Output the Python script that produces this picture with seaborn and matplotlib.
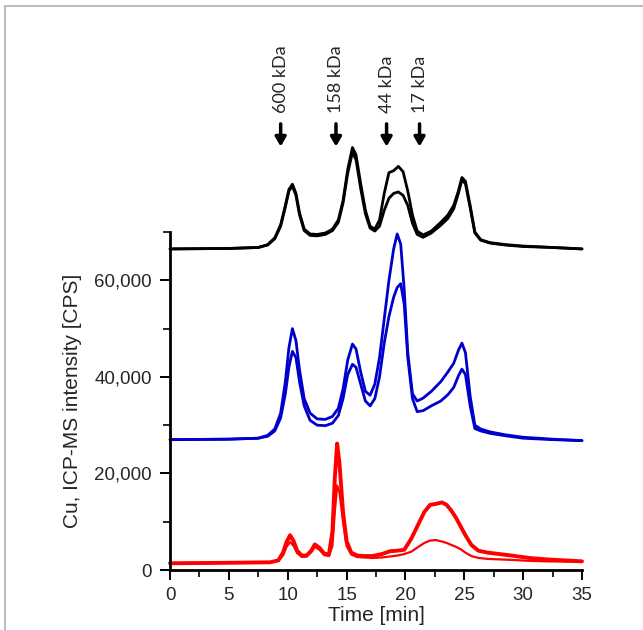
import matplotlib
matplotlib.use("Agg")
import matplotlib.pyplot as plt
from matplotlib.lines import Line2D
from matplotlib.ticker import FuncFormatter, MultipleLocator
import pandas as pd
import seaborn as sns

# values, intensity in CPS / 1000
black_t = [0, 5, 7.5, 8.3, 8.9, 9.4, 9.8, 10.1, 10.4, 10.7, 11.0, 11.4, 11.9, 12.5,
           13.2, 13.8, 14.3, 14.7, 15.1, 15.5, 15.8, 16.2, 16.6, 17.0, 17.4, 17.8,
           18.2, 18.6, 19.0, 19.4, 19.8, 20.2, 20.6, 21.0, 21.5, 22.2, 23.0, 23.6,
           24.1, 24.5, 24.8, 25.1, 25.5, 25.9, 26.4, 27.2, 28.5, 30, 32.5, 35]
black_a = [66.5, 66.6, 66.8, 67.4, 68.8, 71.5, 75.5, 78.8, 79.9, 78, 74, 70.6, 69.6, 69.5,
           69.8, 70.6, 72.5, 76.5, 83, 87.5, 86, 80, 74.5, 71.2, 70.6, 72.5,
           78, 82.3, 82.7, 83.6, 82.5, 78.5, 73.5, 70.2, 69.4, 70.2, 72.0, 73.5,
           75.5, 78.5, 81.3, 80.5, 75.5, 70.0, 68.4, 67.8, 67.4, 67.1, 66.8, 66.5]
black_b = [66.5, 66.6, 66.8, 67.3, 68.6, 71.2, 75.2, 78.5, 79.5, 77.6, 73.6, 70.3, 69.3, 69.2,
           69.5, 70.3, 72.0, 76, 82.2, 86.5, 85, 79, 73.8, 70.8, 70.2, 71.2,
           74.5, 77.0, 78.0, 78.3, 77.6, 75.5, 71.8, 69.5, 68.9, 69.8, 71.4, 72.8,
           74.8, 78.0, 80.8, 80.0, 75.0, 69.8, 68.3, 67.7, 67.3, 67.0, 66.8, 66.5]

blue_t = [0, 5, 7.5, 8.3, 8.9, 9.4, 9.8, 10.1, 10.4, 10.7, 11.0, 11.4, 11.9, 12.5,
          13.2, 13.8, 14.3, 14.7, 15.1, 15.5, 15.8, 16.2, 16.6, 17.0, 17.4, 17.8,
          18.2, 18.6, 19.0, 19.3, 19.6, 19.9, 20.2, 20.6, 21.0, 21.5, 22.2, 23.0,
          23.6, 24.1, 24.5, 24.8, 25.1, 25.5, 25.9, 26.4, 27.2, 28.5, 30, 32.5, 35]
blue_a = [27.0, 27.1, 27.3, 27.9, 29.2, 32.5, 39, 46, 50, 47.5, 41.5, 35.5, 32.5, 31.3,
          31.2, 31.8, 33.5, 37.5, 43.5, 46.8, 45.8, 41, 37, 36.2, 38.5, 44,
          52, 60, 66.5, 69.6, 67.5, 58, 45, 36.5, 35.0, 35.6, 37.0, 39.0,
          41.0, 42.8, 45.5, 47.0, 45.0, 36.0, 30.0, 29.2, 28.6, 28.0, 27.5, 27.1, 26.8]
blue_b = [27.0, 27.1, 27.3, 27.7, 28.8, 31.5, 36.5, 42, 45.3, 44, 39, 34, 31, 30.0,
          29.9, 30.4, 32, 35.5, 40.5, 42.6, 42.0, 38.5, 35, 34.0, 35.5, 40,
          47, 52.5, 56.5, 58.5, 59.3, 55, 44, 35.5, 32.8, 33.0, 34.0, 35.0,
          36.3, 37.8, 40.2, 41.6, 40.5, 34.0, 29.3, 28.8, 28.3, 27.8, 27.3, 27.0, 26.8]

red_t = [0, 5, 8.5, 9.2, 9.6, 9.9, 10.2, 10.5, 10.8, 11.2, 11.6, 12.0, 12.3, 12.7,
         13.1, 13.5, 13.8, 14.0, 14.2, 14.4, 14.7, 15.0, 15.4, 15.9, 16.5, 17.2,
         18.0, 18.7, 19.3, 19.9, 20.5, 21.1, 21.6, 22.1, 22.6, 23.1, 23.5, 23.9,
         24.3, 24.7, 25.1, 25.6, 26.2, 27.0, 28.0, 29.0, 30.5, 32, 35]
red_a = [1.4, 1.5, 1.6, 2.0, 3.6, 5.8, 7.2, 6.0, 4.0, 3.0, 3.0, 4.0, 5.3, 4.6,
         3.4, 3.2, 8, 19, 26.2, 22, 12, 6, 3.6, 3.0, 2.9, 2.9,
         3.3, 3.9, 4.0, 4.2, 6.5, 9.5, 12.0, 13.5, 13.7, 14.0, 13.5, 12.3,
         10.8, 9.0, 7.2, 5.2, 4.0, 3.6, 3.3, 3.0, 2.5, 2.2, 1.8]
red_b = [1.4, 1.5, 1.6, 1.9, 3.0, 4.8, 5.8, 5.0, 3.5, 2.7, 2.8, 3.7, 4.8, 4.2,
         3.1, 2.9, 5, 12, 17.5, 16, 10, 5, 3.2, 2.7, 2.6, 2.5,
         2.6, 2.8, 3.0, 3.3, 3.8, 4.8, 5.6, 6.1, 6.2, 5.9, 5.6, 5.2,
         4.8, 4.3, 3.6, 2.9, 2.5, 2.3, 2.2, 2.1, 1.9, 1.8, 1.7]

marker_t = [9.4, 14.1, 18.4, 21.2]
marker_labels = ["600 kDa", "158 kDa", "44 kDa", "17 kDa"]

sns.set_style("ticks")
plt.rcParams["font.family"] = ["Liberation Sans", "DejaVu Sans"]

fig = plt.figure(figsize=(6.43, 6.30), dpi=100)
ax = fig.add_axes([0.2644, 0.0952, 0.6407, 0.5365])

traces = [
    (black_t, black_a, "#000000", 2.0),
    (black_t, black_b, "#000000", 2.0),
    (blue_t, blue_a, "#0000cd", 2.0),
    (blue_t, blue_b, "#0000cd", 2.0),
    (red_t, red_a, "#ff0000", 2.8),
    (red_t, red_b, "#ff0000", 1.6),
]
for t, v, color, lw in traces:
    df = pd.DataFrame({"time": t, "cps": [x * 1000 for x in v]})
    sns.lineplot(data=df, x="time", y="cps", color=color, linewidth=lw,
                 estimator=None, sort=False, ax=ax, clip_on=False,
                 solid_joinstyle="round")

for t, lab in zip(marker_t, marker_labels):
    ax.annotate("", xy=(t, 87700), xytext=(t, 92400), annotation_clip=False,
                arrowprops=dict(arrowstyle="-|>,head_width=0.32,head_length=0.55",
                                lw=2.5, color="black", shrinkA=0, shrinkB=0))
    ax.text(t, 94600, lab, rotation=90, ha="center", va="bottom",
            fontsize=13, family=["Lato", "DejaVu Sans"], clip_on=False)

ax.set_xlim(0, 35)
ax.set_ylim(0, 70000)
ax.xaxis.set_major_locator(MultipleLocator(5))
ax.xaxis.set_minor_locator(MultipleLocator(2.5))
ax.yaxis.set_major_locator(MultipleLocator(20000))
ax.yaxis.set_minor_locator(MultipleLocator(10000))
ax.yaxis.set_major_formatter(FuncFormatter(lambda v, p: f"{int(v):,}"))

sns.despine(ax=ax)
for s in ("left", "bottom"):
    ax.spines[s].set_linewidth(2)
    ax.spines[s].set_color("black")
ax.tick_params(which="major", length=7, width=1.4, color="black",
               labelsize=13.5, direction="out")
ax.tick_params(which="minor", length=5, width=1.2, color="black", direction="out")
ax.tick_params(axis="x", pad=5)
ax.tick_params(axis="y", pad=6)

ax.set_xlabel("Time [min]", fontsize=15, labelpad=2)
ax.set_ylabel("Cu, ICP-MS intensity [CPS]", fontsize=15, labelpad=9)

# light grey frame around the figure
fig.add_artist(Line2D([5 / 643, 1], [1 - 6 / 630, 1 - 6 / 630], color="#bdbdbd", lw=1.5))
fig.add_artist(Line2D([5 / 643, 5 / 643], [0, 1 - 6 / 630], color="#bdbdbd", lw=1.5))

fig.savefig("out.png", dpi=100)
